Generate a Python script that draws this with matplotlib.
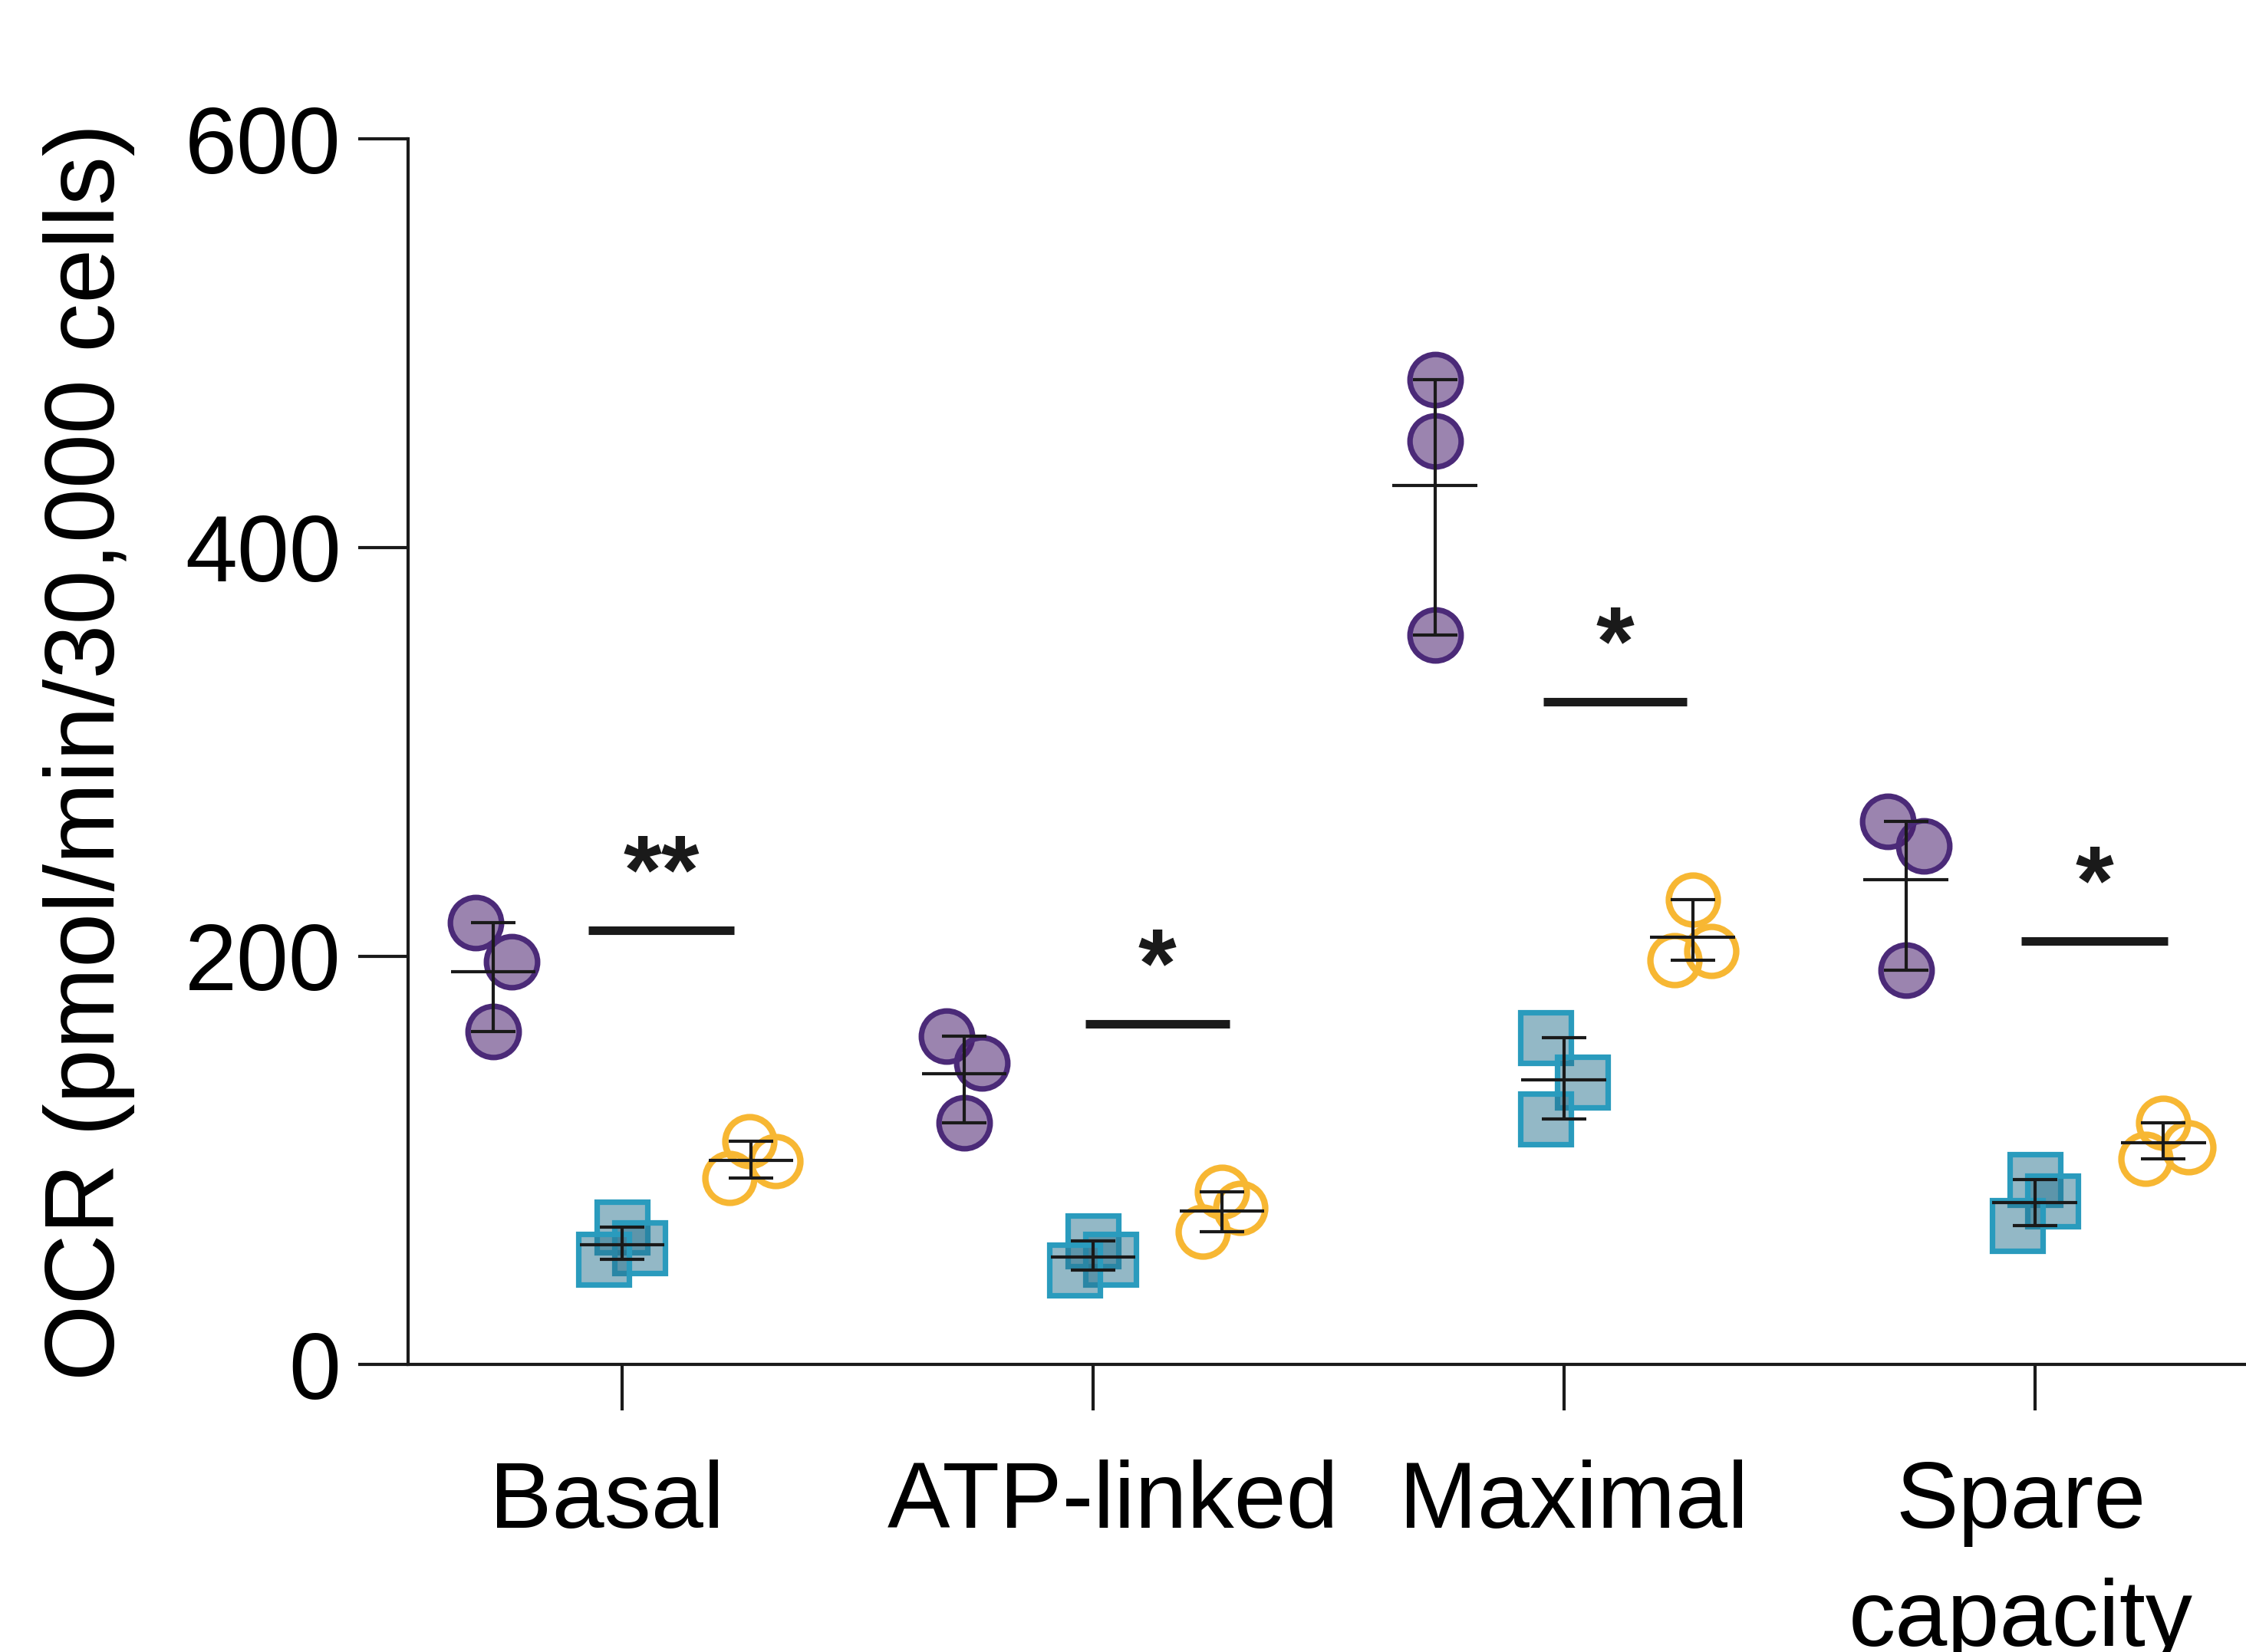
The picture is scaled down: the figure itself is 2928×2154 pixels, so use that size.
import matplotlib
matplotlib.use("Agg")
import matplotlib.pyplot as plt
import matplotlib.transforms as mtransforms
import numpy as np

plt.rcParams["font.family"] = ["Liberation Sans", "DejaVu Sans"]

# ---- data -----------------------------------------------------------------
categories = ["Basal", "ATP-linked", "Maximal", "Spare\ncapacity"]

# OCR replicates (pmol/min/30,000 cells), three per group and category
purple_vals = [[216.5, 197.2, 162.9],
               [160.6, 147.6, 118.4],
               [482.1, 452.1, 357.1],
               [265.8, 253.9, 192.9]]
teal_vals = [[67.4, 57.3, 51.4],
             [60.7, 51.5, 46.2],
             [159.9, 138.1, 120.1],
             [90.5, 79.9, 67.9]]
orange_vals = [[109.5, 99.5, 91.4],
               [84.4, 76.5, 65.0],
               [227.7, 198.0, 202.4],
               [118.5, 106.4, 100.6]]

sig_labels = ["**", "*", "*", "*"]
sig_heights = [212.6, 166.8, 324.5, 207.2]

y_ticks = [0, 200, 400, 600]

# ---- layout / style -------------------------------------------------------
group_shift = [-0.2736, 0.0, 0.2736]
# horizontal spread of the replicate symbols so they do not hide each other
spread = {
    "purple": [[-0.038, 0.039, 0.0], [-0.038, 0.038, 0.0],
               [0.0, 0.0, 0.0], [-0.038, 0.039, 0.0]],
    "teal": [[0.0, 0.037, -0.039], [0.0, 0.038, -0.039],
             [-0.038, 0.039, -0.038], [0.0, 0.039, -0.037]],
    "orange": [[-0.003, 0.052, -0.046], [0.0, 0.039, -0.041],
               [0.0, -0.039, 0.039], [0.0, 0.053, -0.039]],
}
sig_span = [(-0.072, 0.238), (-0.016, 0.290), (-0.043, 0.261), (-0.028, 0.282)]
# small horizontal nudges (in points) of the category labels
label_nudge = [-7.2, 9.4, 4.7, -6.5]

styles = {
    "purple": dict(marker="o", ms=24.0, mfc=(0.29, 0.12, 0.43, 0.55),
                   mec="#4b2a78", mew=2.6),
    "teal": dict(marker="s", ms=23.5, mfc=(0.16, 0.45, 0.56, 0.5),
                 mec="#2a9bbd", mew=2.6),
    "orange": dict(marker="o", ms=23.0, mfc="none",
                   mec="#f7b733", mew=3.0),
}
series = [("purple", purple_vals), ("teal", teal_vals), ("orange", orange_vals)]

ink = "#1a1a1a"

fig = plt.figure(figsize=(14.64, 10.77), dpi=200)
ax = fig.add_axes([0.1817, 0.174, 0.850, 0.7419])

for gi, (name, vals) in enumerate(series):
    for ci, reps in enumerate(vals):
        reps = np.asarray(reps, dtype=float)
        xc = ci + group_shift[gi]
        xs = xc + np.asarray(spread[name][ci])
        ax.plot(xs, reps, linestyle="none", zorder=3, **styles[name])
        m = reps.mean()
        lo, hi = reps.min(), reps.max()
        ax.errorbar([xc], [m], yerr=[[m - lo], [hi - m]], fmt="none",
                    ecolor=ink, elinewidth=1.5, capsize=10.3, capthick=1.5,
                    zorder=4)
        ax.hlines(m, xc - 0.09, xc + 0.09, color=ink, lw=1.5, zorder=4)

# significance bars with asterisks
for ci, (lab, h) in enumerate(zip(sig_labels, sig_heights)):
    x0, x1 = ci + sig_span[ci][0], ci + sig_span[ci][1]
    ax.plot([x0, x1], [h, h], color=ink, lw=4.0, solid_capstyle="butt",
            zorder=4)
    ax.text((x0 + x1) / 2, h + 13.5, lab, ha="center", va="baseline",
            fontsize=46, fontweight="bold", color=ink)

ax.set_xlim(-0.4544, 3.6)
ax.set_ylim(0, 600)
ax.set_yticks(y_ticks)
ax.set_xticks(range(len(categories)))
ax.set_xticklabels(categories, linespacing=1.45)

for s in ("top", "right"):
    ax.spines[s].set_visible(False)
for s in ("left", "bottom"):
    ax.spines[s].set_color(ink)
    ax.spines[s].set_linewidth(1.5)

ax.tick_params(axis="y", length=23.5, width=1.5, pad=8, labelsize=44,
               color=ink, labelcolor="black")
ax.tick_params(axis="x", length=21.6, width=1.5, pad=23, labelsize=44,
               color=ink, labelcolor="black")

for lab, dx in zip(ax.get_xticklabels(), label_nudge):
    lab.set_transform(lab.get_transform()
                      + mtransforms.ScaledTranslation(dx / 72, 0,
                                                      fig.dpi_scale_trans))

fig.text(116 / 2928, 0.545, "OCR (pmol/min/30,000 cells)", rotation=90,
         ha="center", va="center", fontsize=46, color="black")

fig.savefig("out.png", dpi=200)
